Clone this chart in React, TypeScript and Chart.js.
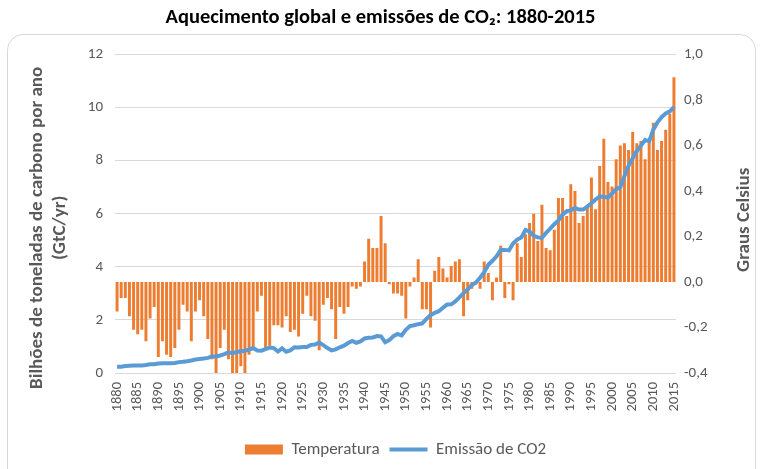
import React, { useEffect, useRef } from 'react';
import { Chart, registerables } from 'chart.js';

Chart.register(...registerables);

const FONT = "Carlito, Lato, 'Open Sans', sans-serif";

const chartTitle = 'Aquecimento global e emissões de CO₂: 1880-2015';
const leftAxisTitle = ['Bilhões de toneladas de carbono por ano', '(GtC/yr)'];
const rightAxisTitle = 'Graus Celsius';
const barLabel = 'Temperatura';
const lineLabel = 'Emissão de CO2';

const years = [
  '1880', '1881', '1882', '1883', '1884', '1885', '1886', '1887', '1888', '1889',
  '1890', '1891', '1892', '1893', '1894', '1895', '1896', '1897', '1898', '1899',
  '1900', '1901', '1902', '1903', '1904', '1905', '1906', '1907', '1908', '1909',
  '1910', '1911', '1912', '1913', '1914', '1915', '1916', '1917', '1918', '1919',
  '1920', '1921', '1922', '1923', '1924', '1925', '1926', '1927', '1928', '1929',
  '1930', '1931', '1932', '1933', '1934', '1935', '1936', '1937', '1938', '1939',
  '1940', '1941', '1942', '1943', '1944', '1945', '1946', '1947', '1948', '1949',
  '1950', '1951', '1952', '1953', '1954', '1955', '1956', '1957', '1958', '1959',
  '1960', '1961', '1962', '1963', '1964', '1965', '1966', '1967', '1968', '1969',
  '1970', '1971', '1972', '1973', '1974', '1975', '1976', '1977', '1978', '1979',
  '1980', '1981', '1982', '1983', '1984', '1985', '1986', '1987', '1988', '1989',
  '1990', '1991', '1992', '1993', '1994', '1995', '1996', '1997', '1998', '1999',
  '2000', '2001', '2002', '2003', '2004', '2005', '2006', '2007', '2008', '2009',
  '2010', '2011', '2012', '2013', '2014', '2015',
];

// Temperature anomaly (°C), right axis
const temperature = [
  -0.13, -0.07, -0.07, -0.15, -0.21, -0.23, -0.21, -0.26, -0.16, -0.11,
  -0.33, -0.26, -0.32, -0.33, -0.29, -0.21, -0.10, -0.13, -0.26, -0.13,
  -0.08, -0.15, -0.25, -0.34, -0.40, -0.29, -0.21, -0.34, -0.40, -0.40,
  -0.37, -0.40, -0.32, -0.30, -0.13, -0.06, -0.29, -0.28, -0.19, -0.19,
  -0.20, -0.15, -0.22, -0.21, -0.24, -0.14, -0.06, -0.15, -0.17, -0.30,
  -0.10, -0.07, -0.12, -0.25, -0.11, -0.14, -0.11, -0.02, -0.03, -0.02,
  0.09, 0.19, 0.15, 0.15, 0.29, 0.17, -0.01, -0.05, -0.05, -0.06,
  -0.16, -0.02, 0.02, 0.10, -0.12, -0.12, -0.20, 0.05, 0.11, 0.06,
  0.02, 0.07, 0.09, 0.10, -0.15, -0.08, -0.03, -0.01, -0.03, 0.09,
  0.04, -0.08, 0.02, 0.16, -0.07, -0.01, -0.08, 0.17, 0.11, 0.21,
  0.26, 0.30, 0.18, 0.34, 0.15, 0.14, 0.23, 0.37, 0.37, 0.29,
  0.43, 0.40, 0.26, 0.29, 0.33, 0.46, 0.32, 0.51, 0.63, 0.44,
  0.42, 0.54, 0.60, 0.61, 0.58, 0.66, 0.61, 0.62, 0.54, 0.63,
  0.70, 0.58, 0.62, 0.67, 0.74, 0.90,
];

// CO2 emissions (GtC/yr), left axis
const co2 = [
  0.24, 0.24, 0.26, 0.27, 0.28, 0.28, 0.28, 0.30, 0.33, 0.33,
  0.36, 0.37, 0.37, 0.37, 0.38, 0.41, 0.42, 0.44, 0.47, 0.51,
  0.53, 0.55, 0.57, 0.62, 0.62, 0.66, 0.71, 0.78, 0.75, 0.79,
  0.82, 0.84, 0.88, 0.94, 0.85, 0.84, 0.90, 0.96, 0.94, 0.81,
  0.93, 0.80, 0.85, 0.97, 0.96, 0.98, 0.98, 1.06, 1.07, 1.15,
  1.05, 0.94, 0.85, 0.89, 0.97, 1.03, 1.13, 1.21, 1.14, 1.19,
  1.30, 1.33, 1.34, 1.39, 1.38, 1.16, 1.24, 1.39, 1.47, 1.42,
  1.63, 1.77, 1.80, 1.84, 1.87, 2.04, 2.18, 2.27, 2.33, 2.46,
  2.58, 2.59, 2.70, 2.85, 3.01, 3.15, 3.31, 3.41, 3.59, 3.80,
  4.08, 4.23, 4.40, 4.64, 4.64, 4.62, 4.88, 5.03, 5.11, 5.39,
  5.33, 5.17, 5.11, 5.09, 5.28, 5.44, 5.61, 5.75, 5.97, 6.10,
  6.13, 6.22, 6.16, 6.16, 6.27, 6.40, 6.54, 6.65, 6.64, 6.61,
  6.77, 6.93, 7.00, 7.42, 7.81, 8.09, 8.37, 8.57, 8.78, 8.74,
  9.17, 9.45, 9.64, 9.78, 9.86, 10.02,
];

const ORANGE = '#ED7D31';
const BLUE = '#5B9BD5';
const GREY = '#595959';

const axisTitlesPlugin = {
  id: 'axisTitles',
  afterDraw(chart: any) {
    const { ctx, chartArea } = chart;
    const cy = (chartArea.top + chartArea.bottom) / 2;
    ctx.save();
    ctx.fillStyle = GREY;
    ctx.font = `bold 19px ${FONT}`;
    ctx.textAlign = 'center';
    ctx.textBaseline = 'middle';
    ctx.save();
    ctx.translate(37, cy + 14);
    ctx.rotate(-Math.PI / 2);
    ctx.fillText(leftAxisTitle[0], 0, 0);
    ctx.fillText(leftAxisTitle[1], 0, 23);
    ctx.restore();
    ctx.save();
    ctx.translate(744, cy + 6);
    ctx.rotate(-Math.PI / 2);
    ctx.fillText(rightAxisTitle, 0, 0);
    ctx.restore();
    ctx.restore();
  },
};

export default function App() {
  const ref = useRef<HTMLCanvasElement>(null);

  useEffect(() => {
    const chart = new Chart(ref.current as HTMLCanvasElement, {
      type: 'bar',
      data: {
        labels: years,
        datasets: [
          {
            type: 'bar',
            label: barLabel,
            data: temperature,
            backgroundColor: ORANGE,
            borderWidth: 0,
            yAxisID: 'y1',
            barPercentage: 0.72,
            categoryPercentage: 1,
            order: 1,
          } as any,
          {
            type: 'line',
            label: lineLabel,
            data: co2,
            borderColor: BLUE,
            backgroundColor: BLUE,
            borderWidth: 4,
            pointRadius: 0,
            tension: 0,
            yAxisID: 'y',
            order: 0,
          } as any,
        ],
      },
      options: {
        responsive: false,
        animation: false,
        layout: { padding: { left: 0, right: 0, top: 0, bottom: 1 } },
        plugins: {
          title: {
            display: true,
            text: chartTitle,
            color: '#000000',
            font: { family: FONT, size: 20.5, weight: 'bold' },
            padding: { top: 6, bottom: 24 },
          },
          legend: {
            position: 'bottom',
            fullSize: false,
            labels: {
              usePointStyle: true,
              pointStyleWidth: 38,
              boxHeight: 10,
              padding: 10,
              color: GREY,
              font: { family: FONT, size: 17 },
              sort: (a: any, b: any) => a.datasetIndex - b.datasetIndex,
              generateLabels(c: any) {
                const items = (Chart.defaults.plugins.legend.labels as any).generateLabels(c);
                items.forEach((it: any) => {
                  const ds = c.data.datasets[it.datasetIndex];
                  if (ds.type === 'line') {
                    it.pointStyle = 'line';
                    it.lineWidth = 4;
                    it.strokeStyle = ds.borderColor;
                  } else {
                    it.pointStyle = 'rect';
                    it.lineWidth = 0;
                    it.fillStyle = ORANGE;
                    it.strokeStyle = ORANGE;
                  }
                });
                return items;
              },
            },
          },
          tooltip: { enabled: false },
        },
        scales: {
          x: {
            type: 'category',
            grid: { display: false, drawTicks: false },
            border: { display: false },
            ticks: {
              autoSkip: false,
              maxRotation: 90,
              minRotation: 90,
              color: GREY,
              padding: 9,
              font: { family: FONT, size: 14.5 },
              callback: (_v: any, idx: number) =>
                Number(years[idx]) % 5 === 0 ? years[idx] : null,
            },
            afterFit(scale: any) {
              scale.height = 58;
            },
          },
          y: {
            position: 'left',
            min: 0,
            max: 12,
            ticks: {
              stepSize: 2,
              color: GREY,
              padding: 12,
              font: { family: FONT, size: 15 },
            },
            grid: { color: '#d9d9d9', lineWidth: 1, drawTicks: false },
            border: { display: false },
            afterFit(scale: any) {
              scale.width = 115;
            },
          },
          y1: {
            position: 'right',
            min: -0.4,
            max: 1.0,
            ticks: {
              stepSize: 0.2,
              color: GREY,
              padding: 8,
              font: { family: FONT, size: 15 },
              callback: (v: any) => {
                const n = Number(v);
                if (Math.abs(n) < 1e-9) return '0,0';
                return n.toFixed(1).replace('.', ',');
              },
            },
            grid: { display: false, drawTicks: false },
            border: { display: false },
            afterFit(scale: any) {
              scale.width = 85;
            },
          },
        },
      } as any,
      plugins: [axisTitlesPlugin],
    });
    return () => chart.destroy();
  }, []);

  return (
    <div
      style={{
        position: 'absolute',
        left: 0,
        top: 0,
        width: 761,
        height: 469,
        overflow: 'hidden',
        background: '#ffffff',
      }}
    >
      <div
        style={{
          position: 'absolute',
          left: 7,
          top: 34,
          width: 749,
          height: 460,
          border: '1px solid #d9d9d9',
          borderRadius: 16,
          boxSizing: 'border-box',
        }}
      />
      <canvas
        ref={ref}
        width={761}
        height={469}
        style={{ position: 'absolute', left: 0, top: 0, width: 761, height: 469 }}
      />
    </div>
  );
}
